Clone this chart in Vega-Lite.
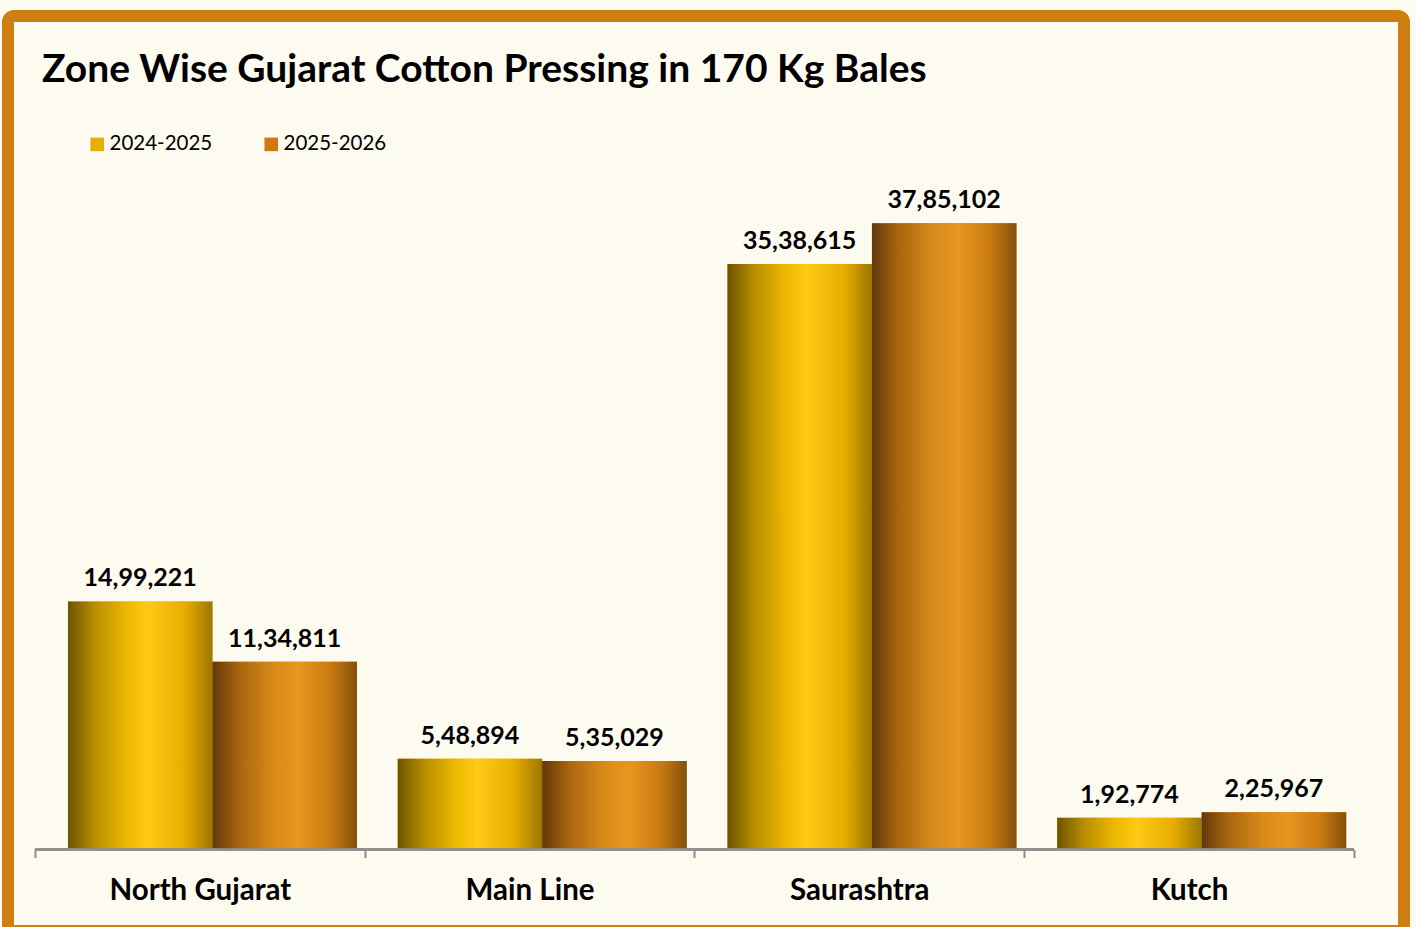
{
  "$schema": "https://vega.github.io/schema/vega-lite/v6.json",
  "width": 1396,
  "height": 915,
  "autosize": {"type": "none"},
  "padding": {"left": 8, "top": 16, "right": 12, "bottom": 0},
  "background": "#FDFBF0",
  "config": {
    "view": {"fill": "#FDFBF0", "stroke": "#CF7E12", "strokeWidth": 12, "cornerRadius": 6},
    "locale": {"number": {"decimal": ".", "thousands": ",", "grouping": [3, 2, 2, 2, 2], "currency": ["₹", ""]}},
    "font": "Lato"
  },
  "title": {
    "text": "Zone Wise Gujarat Cotton Pressing in 170 Kg Bales",
    "anchor": "start",
    "frame": "group",
    "dx": 34,
    "offset": -105,
    "baseline": "alphabetic",
    "font": "Lato",
    "fontSize": 39,
    "fontWeight": "bold",
    "color": "#000000"
  },
  "data": {
    "values": [
      {"zone": "North Gujarat", "season": "2024-2025", "bales": 1499221},
      {"zone": "North Gujarat", "season": "2025-2026", "bales": 1134811},
      {"zone": "Main Line", "season": "2024-2025", "bales": 548894},
      {"zone": "Main Line", "season": "2025-2026", "bales": 535029},
      {"zone": "Saurashtra", "season": "2024-2025", "bales": 3538615},
      {"zone": "Saurashtra", "season": "2025-2026", "bales": 3785102},
      {"zone": "Kutch", "season": "2024-2025", "bales": 192774},
      {"zone": "Kutch", "season": "2025-2026", "bales": 225967}
    ]
  },
  "encoding": {
    "x": {
      "field": "zone",
      "type": "nominal",
      "sort": ["North Gujarat", "Main Line", "Saurashtra", "Kutch"],
      "scale": {"paddingInner": 0, "paddingOuter": 0.1168, "align": 0.35},
      "axis": {
        "title": null,
        "orient": "bottom",
        "offset": -81.5,
        "domain": false,
        "ticks": true,
        "tickBand": "extent",
        "tickColor": "#8c8c8c",
        "tickWidth": 2,
        "tickSize": 8,
        "labelAngle": 0,
        "labelLimit": 0,
        "labelFont": "Lato",
        "labelFontSize": 29.5,
        "labelFontWeight": "bold",
        "labelColor": "#000000",
        "labelBaseline": "alphabetic",
        "labelPadding": 41.5,
        "grid": false
      }
    },
    "y": {
      "field": "bales",
      "type": "quantitative",
      "scale": {"domain": [-492000, 5037000], "nice": false, "zero": false},
      "axis": null
    }
  },
  "layer": [
    {
      "mark": {"type": "bar"},
      "encoding": {
        "xOffset": {"field": "season", "type": "nominal", "scale": {"domain": ["2024-2025", "2025-2026"], "paddingInner": 0, "paddingOuter": 0.141, "align": 0.81}},
        "y2": {"datum": 0},
        "color": {
          "field": "season",
          "type": "nominal",
          "scale": {"domain": ["2024-2025", "2025-2026"], "range": ["#E6AF00", "#CC7A10"]},
          "legend": {
            "title": null,
            "orient": "none",
            "direction": "horizontal",
            "legendX": 79,
            "legendY": 118,
            "symbolType": "square",
            "symbolSize": 185,
            "symbolStrokeWidth": 0,
            "labelFont": "Lato",
            "labelFontSize": 20.5,
            "labelColor": "#000000",
            "labelOffset": 2,
            "columnPadding": 48,
            "padding": 0
          }
        }
      }
    },
    {
      "transform": [{"filter": "datum.season === '2024-2025'"}],
      "mark": {
        "type": "bar",
        "color": {
          "gradient": "linear", "x1": 0, "x2": 1, "y1": 0, "y2": 0,
          "stops": [
            {"offset": 0, "color": "#6E5400"},
            {"offset": 0.18, "color": "#B58C00"},
            {"offset": 0.4, "color": "#EDB800"},
            {"offset": 0.55, "color": "#FFC916"},
            {"offset": 0.8, "color": "#E8AE00"},
            {"offset": 1, "color": "#9E7600"}
          ]
        }
      },
      "encoding": {
        "xOffset": {"field": "season", "type": "nominal"},
        "y2": {"datum": 0}
      }
    },
    {
      "transform": [{"filter": "datum.season === '2025-2026'"}],
      "mark": {
        "type": "bar",
        "color": {
          "gradient": "linear", "x1": 0, "x2": 1, "y1": 0, "y2": 0,
          "stops": [
            {"offset": 0, "color": "#62380A"},
            {"offset": 0.18, "color": "#A8650E"},
            {"offset": 0.42, "color": "#D88A1A"},
            {"offset": 0.6, "color": "#E8961F"},
            {"offset": 0.82, "color": "#C97A12"},
            {"offset": 1, "color": "#84500A"}
          ]
        }
      },
      "encoding": {
        "xOffset": {"field": "season", "type": "nominal"},
        "y2": {"datum": 0}
      }
    },
    {
      "mark": {"type": "text", "baseline": "alphabetic", "dy": -15, "font": "Lato", "fontSize": 25, "fontWeight": "bold", "color": "#000000"},
      "encoding": {
        "xOffset": {"field": "season", "type": "nominal"},
        "text": {"field": "bales", "type": "quantitative", "format": ",d"}
      }
    },
    {
      "mark": {"type": "rule", "color": "#8c8c8c", "strokeWidth": 2.5},
      "encoding": {
        "x": {"field": "zone", "type": "nominal", "sort": ["North Gujarat", "Main Line", "Saurashtra", "Kutch"], "bandPosition": 0},
        "x2": {"field": "zone", "bandPosition": 1},
        "y": {"datum": 0}
      }
    }
  ]
}
